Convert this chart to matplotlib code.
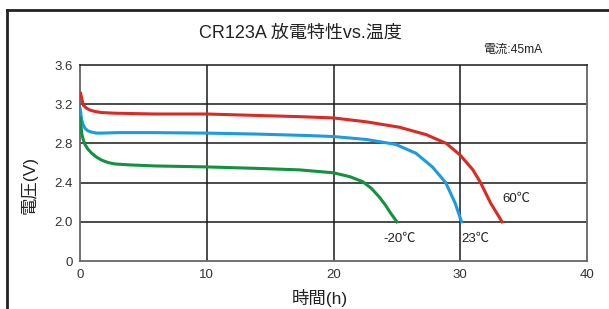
import matplotlib
matplotlib.use("Agg")
from matplotlib import pyplot as plt
from matplotlib.lines import Line2D

plt.rcParams['font.family'] = ['Liberation Sans', 'Noto Sans CJK JP', 'DejaVu Sans']

# 60C discharge curve
hours_60 = [0.05, 0.15, 0.26, 0.5, 0.79, 1.2, 1.7, 2.76, 5.9, 10, 14, 17.3, 20,
            22.6, 25.2, 27.3, 28.9, 30, 31.0, 31.6, 32.4, 33.3]
volts_60 = [3.31, 3.25, 3.19, 3.16, 3.14, 3.125, 3.115, 3.108, 3.10, 3.10, 3.085,
            3.073, 3.06, 3.02, 2.965, 2.89, 2.80, 2.68, 2.53, 2.40, 2.19, 2.0]

# 23C discharge curve
hours_23 = [0.02, 0.13, 0.25, 0.39, 0.6, 0.92, 1.3, 1.7, 3, 5.9, 10, 14, 18, 20,
            22.6, 24.9, 26.5, 27.8, 28.85, 29.6, 30.1]
volts_23 = [3.15, 3.04, 2.99, 2.955, 2.93, 2.915, 2.905, 2.905, 2.91, 2.91, 2.905,
            2.895, 2.88, 2.87, 2.84, 2.79, 2.70, 2.56, 2.40, 2.19, 2.0]

# -20C discharge curve
hours_m20 = [0.02, 0.13, 0.25, 0.39, 0.6, 0.92, 1.3, 1.7, 2.2, 2.76, 4, 5.9, 10, 14,
             17.3, 20, 21.3, 22.3, 23.0, 23.6, 24.1, 24.5, 25.0]
volts_m20 = [3.06, 2.905, 2.84, 2.79, 2.745, 2.70, 2.66, 2.63, 2.605, 2.59, 2.58,
             2.57, 2.56, 2.545, 2.53, 2.50, 2.46, 2.41, 2.34, 2.255, 2.17, 2.09, 2.0]

x_ticks = [0, 10, 20, 30, 40]
y_ticks = [1.6, 2.0, 2.4, 2.8, 3.2, 3.6]
y_tick_labels = ["0", "2.0", "2.4", "2.8", "3.2", "3.6"]

fig = plt.figure(figsize=(6.09, 3.09), dpi=100)
ax = fig.add_axes([80 / 609, 1 - 261 / 309, 507 / 609, 196 / 309])

for y in [2.0, 2.4, 2.8, 3.2]:
    ax.axhline(y, color="#1a1a1a", linewidth=1.1, zorder=1)
for x in [10, 20, 30]:
    ax.axvline(x, color="#1a1a1a", linewidth=1.1, zorder=1)

ax.plot(hours_60, volts_60, color="#dc2a22", linewidth=2.2, zorder=3)
ax.plot(hours_23, volts_23, color="#1b9be0", linewidth=2.2, zorder=3)
ax.plot(hours_m20, volts_m20, color="#12923f", linewidth=2.2, zorder=3)

ax.text(33.3, 2.23, "60℃", fontsize=9.5, va="center", ha="left", color="#222222")
ax.text(23.9, 1.83, "-20℃", fontsize=9.5, va="center", ha="left", color="#222222")
ax.text(30.1, 1.83, "23℃", fontsize=9.5, va="center", ha="left", color="#222222")

ax.set_xlim(0, 40)
ax.set_ylim(1.6, 3.6)
ax.set_xticks(x_ticks)
ax.set_yticks(y_ticks)
ax.set_yticklabels(y_tick_labels)
ax.tick_params(length=0, labelsize=9.5, colors="#333333", pad=5)
ax.tick_params(axis="x", pad=6)

for side in ["left", "bottom", "right"]:
    ax.spines[side].set_color("#666666")
    ax.spines[side].set_linewidth(1.3)
ax.spines["top"].set_color("#1a1a1a")
ax.spines["top"].set_linewidth(1.1)

ax.set_xlabel("時間(h)", fontsize=12.5, color="#222222")
ax.set_ylabel("電圧(V)", fontsize=12.5, color="#222222")
ax.xaxis.set_label_coords(0.473, -0.145)
ax.yaxis.set_label_coords(-0.083, 0.388)

fig.text(0.494, 0.893, "CR123A 放電特性vs.温度", fontsize=13, ha="center", va="center",
         color="#222222")
fig.text(483 / 609, 0.838, "電流:45mA", fontsize=8.7, ha="left", va="center", color="#222222")

# outer frame (left and top edges)
fig.add_artist(Line2D([7 / 609, 7 / 609], [0, 1 - 10 / 309], color="#222222", linewidth=2))
fig.add_artist(Line2D([7 / 609, 1], [1 - 10 / 309, 1 - 10 / 309], color="#222222", linewidth=2))

fig.savefig("out.png", dpi=100)
